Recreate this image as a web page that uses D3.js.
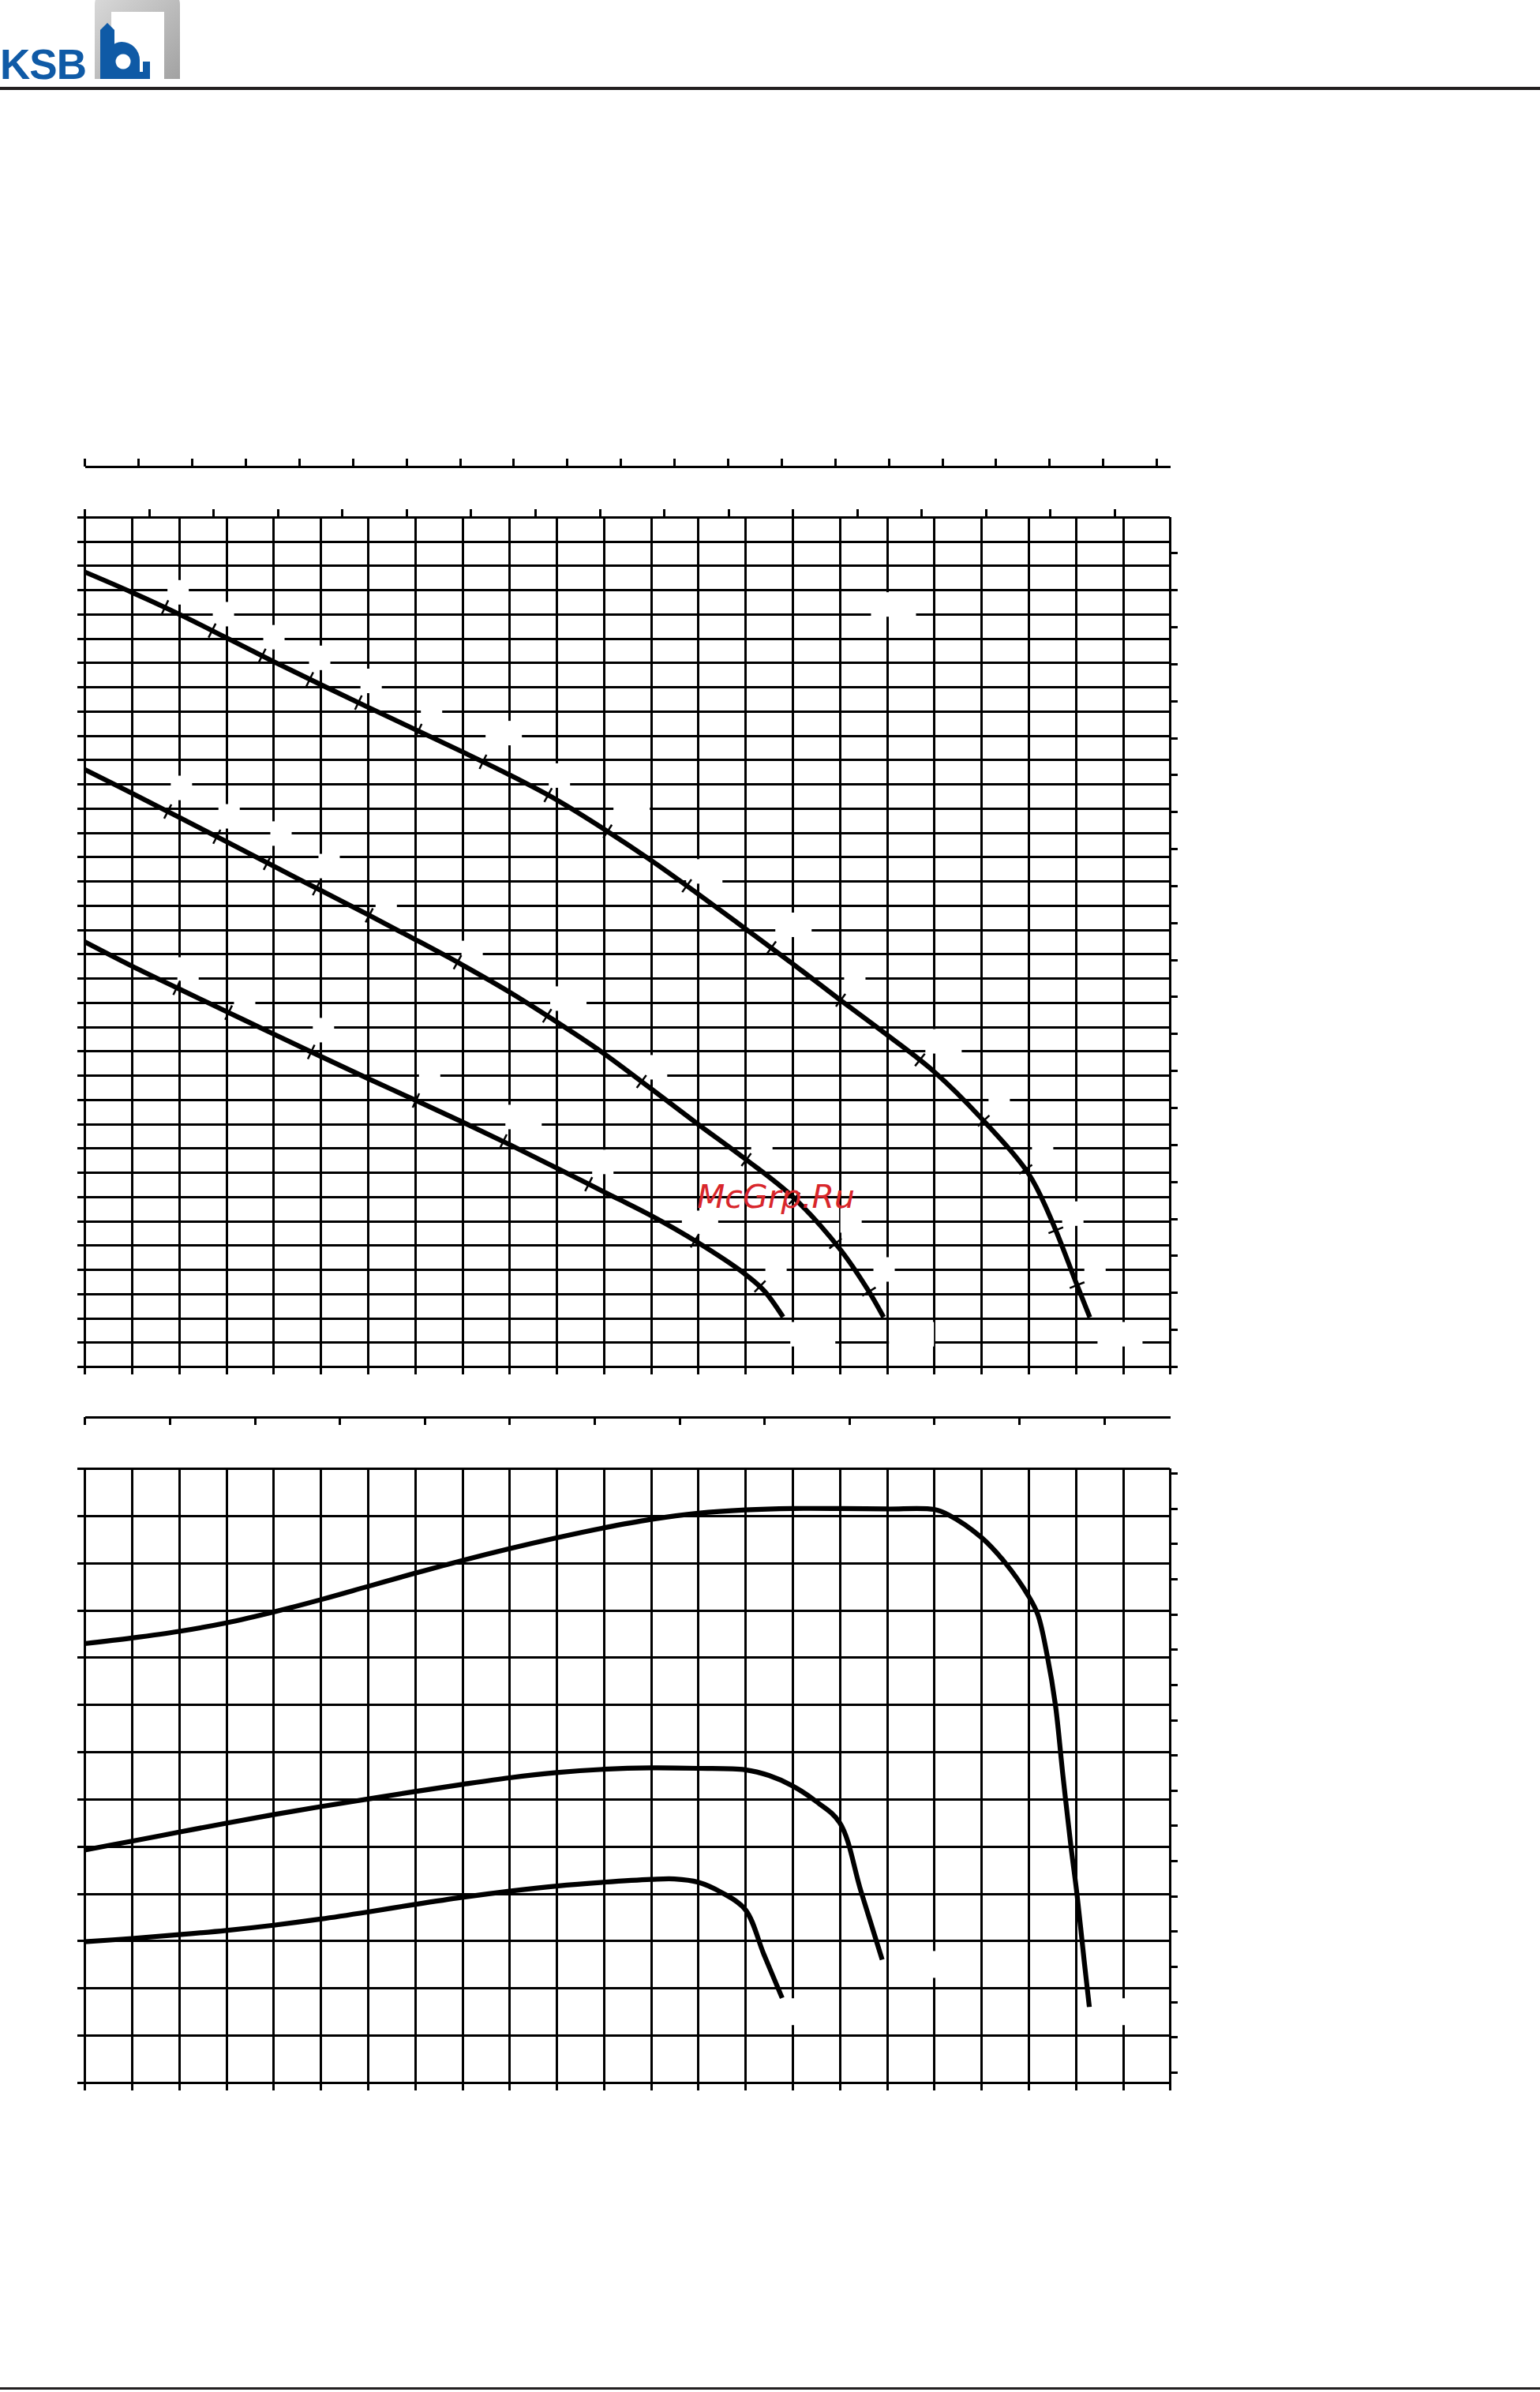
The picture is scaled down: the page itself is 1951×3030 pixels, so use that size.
<!DOCTYPE html>
<html><head><meta charset="utf-8">
<script src="https://cdn.jsdelivr.net/npm/d3@7"></script>
<style>
html,body{margin:0;padding:0;background:#fff}
.ax .tick line,.ax .domain{stroke:#000;stroke-width:3;shape-rendering:crispEdges}
.ax text{display:none}
</style>
</head><body>
<svg id="c" width="1951" height="3030" xmlns="http://www.w3.org/2000/svg"></svg>
<script>
// ================= DATA =================
// grid values (flow Q in m3/h, head H in m, power P in kW)
const flowGrid  = d3.range(0, 24);                 // 0..23 m3/h
const headGrid  = d3.range(0, 36);                 // 0..35 m
const powerGrid = d3.range(5, 19).map(v => v / 10); // 0.5..1.8 kW
// secondary tick values
const usgpmTicks = d3.range(0, 101, 5);            // US gpm
const igpmTicks  = d3.range(0, 81, 5);             // IM gpm
const lpsTicks   = d3.range(0, 13).map(v => v / 2);// l/s
const ftTicks    = d3.range(0, 111, 5);            // ft
const hpTicks    = d3.range(7, 25).map(v => v / 10); // hp

// H-Q curves (three impeller diameters)
const flowLarge = [0,1,2,3,4,5,6,7,8,9,10,11,12,13,14,15,16,17,18,19,20,20.5,21,21.3];
const headLarge = [32.74,31.9,31.0,30.03,29.05,28.1,27.17,26.25,25.33,24.38,23.35,22.15,20.86,19.47,18.04,16.6,15.12,13.67,12.15,10.23,7.95,5.98,3.5,2.03];
const flowMid   = [0,1,2,3,4,5,6,7,8,9,10,11,12,13,14,15,16,16.6,16.93];
const headMid   = [24.6,23.62,22.63,21.63,20.62,19.62,18.62,17.6,16.55,15.43,14.2,12.9,11.45,9.98,8.55,7.0,4.85,3.15,2.03];
const flowSmall = [0,1,2,3,4,5,6,7,8,9,10,11,12,13,14,14.4,14.8];
const headSmall = [17.5,16.5,15.56,14.63,13.7,12.78,11.87,10.98,10.08,9.15,8.18,7.2,6.22,5.1,3.8,3.12,2.04];

// marks on H-Q curves (flow positions)
const marksLarge = [1.7,2.7,3.76,4.77,5.8,7.07,8.44,9.82,11.08,12.76,14.55,16.02,17.7,19.05,19.94,20.58,21.03];
const marksMid   = [1.76,2.8,3.87,4.91,6.03,7.9,9.8,11.8,14.02,15.04,15.91,16.62];
const marksSmall = [1.95,3.05,4.8,7.02,8.87,10.68,12.93,14.31];

// P-Q curves
const pFlowLarge = [0,1,2,3,4,5,6,7,8,9,10,11,12,13,14,15,16,17,18,18.3,19,19.5,20,20.2,20.4,20.57,20.73,20.9,21.03,21.18,21.29];
const powerLarge = [1.429,1.441,1.455,1.473,1.496,1.522,1.55,1.578,1.605,1.63,1.653,1.674,1.692,1.705,1.712,1.715,1.715,1.714,1.713,1.702,1.654,1.601,1.53,1.49,1.402,1.3,1.15,1.0,0.897,0.758,0.66];
const pFlowMid   = [0,1,2,3,4,5,6,7,8,9,10,11,12,13,14,14.5,15,15.5,16,16.45,16.9];
const powerMid   = [0.992,1.011,1.03,1.049,1.067,1.084,1.1,1.116,1.131,1.145,1.156,1.163,1.166,1.165,1.162,1.15,1.128,1.095,1.05,0.905,0.76];
const pFlowSmall = [0,1,2,3,4,5,6,7,8,9,10,11,12,12.5,13,13.5,14,14.39,14.78];
const powerSmall = [0.798,0.805,0.813,0.822,0.833,0.846,0.861,0.877,0.892,0.905,0.916,0.924,0.93,0.931,0.924,0.902,0.866,0.772,0.679];

// erased label placeholders: [Q, H, characters]
const headLabels = [
 [1.98,31.9,1],[2.94,31.0,1],[4.01,30.05,1],[4.98,29.2,1],[6.07,28.25,1],[7.35,27.0,1],[8.88,26.1,2],
 [10.06,24.35,1],[11.59,23.0,2],[13.13,20.4,2],[15.02,18.2,2],[16.32,16.05,1],[18.2,13.4,2],
 [19.38,11.0,1],[20.3,9.0,1],[20.94,6.3,1],[21.41,4.1,1],[21.94,1.33,3],[17.14,31.4,3],
 [2.05,23.84,1],[3.06,22.67,1],[4.16,21.96,1],[5.18,20.62,1],[6.39,18.96,1],[8.21,17.04,1],
 [10.25,15.16,2],[11.96,12.33,2],[14.35,9.0,1],[16.24,6.02,1],[16.94,4.0,1],[17.52,1.33,3],
 [2.19,16.36,1],[3.39,15.06,1],[5.06,13.86,1],[7.31,12.0,1],[9.3,10.28,2],[10.98,8.43,1],
 [13.04,5.92,2],[14.65,4.16,1],[15.43,1.33,3]
];
const powerLabels = [[15.33,0.65,3],[17.94,0.75,2],[21.92,0.65,3]];

// ================= DRAWING =================
const svg = d3.select('#c');
svg.append('rect').attr('width',1951).attr('height',3030).attr('fill','#fff');

const X0 = 107.3, X1 = 1482.3, XL = 98;
const x   = d3.scaleLinear().domain([0, 23]).range([X0, X1]);
const xUS = d3.scaleLinear().domain([0, 23 / 0.2271247]).range([X0, X1]);
const xIG = d3.scaleLinear().domain([0, 23 / 0.2727654]).range([X0, X1]);
const xLS = d3.scaleLinear().domain([0, 23 / 3.6]).range([X0, X1]);
const yH  = d3.scaleLinear().domain([0, 35]).range([1731, 655]);
const yFt = d3.scaleLinear().domain([0, 35 / 0.3048]).range([1731, 655]);
const yP  = d3.scaleLinear().domain([0.5, 1.8]).range([2638, 1860]);
const yHp = d3.scaleLinear().domain([0.5 / 0.7457, 1.8 / 0.7457]).range([2638, 1860]);

// ---- header ----
const hdr = svg.append('g');
const grad = svg.append('defs').append('linearGradient').attr('id','gr').attr('x1',0).attr('y1',0).attr('x2',1).attr('y2',1);
grad.append('stop').attr('offset','0%').attr('stop-color','#dadada');
grad.append('stop').attr('offset','100%').attr('stop-color','#a2a2a2');
hdr.append('path').attr('fill','url(#gr)')
  .attr('d','M120,100 L120,6 Q120,-8 134,-8 L214,-8 Q228,-8 228,6 L228,100 L208,100 L208,15 L141,15 L141,100 Z');
const blue = '#0f5aa6';
hdr.append('path').attr('fill',blue).attr('d','M127,100 L127,38 L136,29 L145,38 L145,100 Z');
hdr.append('path').attr('fill',blue).attr('fill-rule','evenodd')
  .attr('d','M140,60 Q146,53 154,53 A23,23 0 0 1 177,76 L177,100 L140,100 Z M156,68.5 a9.5,9.5 0 1 0 0.01,0 Z');
hdr.append('rect').attr('x',181).attr('y',78).attr('width',9).attr('height',22).attr('fill',blue);
hdr.append('rect').attr('x',160).attr('y',91).attr('width',30).attr('height',9).attr('fill',blue);
hdr.append('text').attr('x',0).attr('y',100).attr('font-family','"Liberation Sans",Arial,sans-serif')
  .attr('font-weight','bold').attr('font-size',53).attr('letter-spacing',-1).attr('fill',blue).text('KSB');
hdr.append('rect').attr('x',0).attr('y',110).attr('width',1951).attr('height',4).attr('fill','#231f20');
svg.append('rect').attr('x',0).attr('y',3024).attr('width',1951).attr('height',3).attr('fill','#231f20');

function noText(g){ g.selectAll('text').remove(); }

// ---- top chart (H) ----
const topG = svg.append('g');
topG.append('g').attr('class','ax').attr('transform',`translate(${XL},0)`)
  .call(d3.axisLeft(yH).tickValues(headGrid).tickSize(-(X1 - XL)).tickFormat(''))
  .call(g => { g.select('.domain').remove(); noText(g); });
topG.append('g').attr('class','ax').attr('transform','translate(0,1741)')
  .call(d3.axisBottom(x).tickValues(flowGrid).tickSize(-(1741 - 655)).tickFormat(''))
  .call(g => { g.select('.domain').remove(); noText(g); });
topG.append('g').attr('class','ax').attr('transform','translate(0,655)')
  .call(d3.axisTop(xIG).tickValues(igpmTicks).tickSize(10).tickFormat(''))
  .call(g => { g.select('.domain').remove(); noText(g); });
topG.append('g').attr('class','ax').attr('transform','translate(0,591)')
  .call(d3.axisTop(xUS).tickValues(usgpmTicks).tickSize(10).tickSizeOuter(0).tickFormat(''))
  .call(noText);
topG.append('g').attr('class','ax').attr('transform',`translate(${X1},0)`)
  .call(d3.axisRight(yFt).tickValues(ftTicks).tickSize(10).tickFormat(''))
  .call(g => { g.select('.domain').remove(); noText(g); });

// l/s axis between the charts
svg.append('g').attr('class','ax').attr('transform','translate(0,1795)')
  .call(d3.axisBottom(xLS).tickValues(lpsTicks).tickSize(10).tickSizeOuter(0).tickFormat(''))
  .call(noText);

// ---- bottom chart (P) ----
const botG = svg.append('g');
botG.append('g').attr('class','ax').attr('transform',`translate(${XL},0)`)
  .call(d3.axisLeft(yP).tickValues(powerGrid).tickSize(-(X1 - XL)).tickFormat(''))
  .call(g => { g.select('.domain').remove(); noText(g); });
botG.append('g').attr('class','ax').attr('transform','translate(0,2648)')
  .call(d3.axisBottom(x).tickValues(flowGrid).tickSize(-(2648 - 1860)).tickFormat(''))
  .call(g => { g.select('.domain').remove(); noText(g); });
botG.append('g').attr('class','ax').attr('transform',`translate(${X1},0)`)
  .call(d3.axisRight(yHp).tickValues(hpTicks).tickSize(10).tickFormat(''))
  .call(g => { g.select('.domain').remove(); noText(g); });

// ---- erased label placeholders ----
const boxW = {1: 27, 2: 46, 3: 57};
svg.append('g').selectAll('rect').data(headLabels).join('rect')
  .attr('x', d => x(d[0]) - boxW[d[2]] / 2).attr('y', d => yH(d[1]) - 15.5)
  .attr('width', d => boxW[d[2]]).attr('height', 31).attr('fill', '#fff');
svg.append('g').selectAll('rect').data(powerLabels).join('rect')
  .attr('x', d => x(d[0]) - boxW[d[2]] / 2).attr('y', d => yP(d[1]) - 17)
  .attr('width', d => boxW[d[2]]).attr('height', 34).attr('fill', '#fff');

// ---- curves ----
const curveG = svg.append('g');
function drawCurve(qs, vs, ys, w){
  const pts = qs.map((q, i) => [x(q), ys(vs[i])]);
  return curveG.append('path').attr('d', d3.line().curve(d3.curveCatmullRom.alpha(0.5))(pts))
    .attr('fill','none').attr('stroke','#000').attr('stroke-width',w)
    .attr('stroke-linejoin','round').node();
}
function lengthAtX(node, px){
  let lo = 0, hi = node.getTotalLength();
  for (let i = 0; i < 40; i++){
    const m = (lo + hi) / 2;
    if (node.getPointAtLength(m).x < px) lo = m; else hi = m;
  }
  return (lo + hi) / 2;
}
function drawMarks(node, qs){
  const L = node.getTotalLength();
  qs.forEach(q => {
    const s = lengthAtX(node, x(q));
    const p = node.getPointAtLength(s);
    const a = node.getPointAtLength(Math.max(0, s - 4));
    const b = node.getPointAtLength(Math.min(L, s + 4));
    let dx = b.x - a.x, dy = b.y - a.y; const n = Math.hypot(dx, dy) || 1;
    dx /= n; dy /= n;
    const nx = -dy, ny = dx, h = 10;
    curveG.append('line')
      .attr('x1', p.x - nx * h).attr('y1', p.y - ny * h)
      .attr('x2', p.x + nx * h).attr('y2', p.y + ny * h)
      .attr('stroke','#000').attr('stroke-width',2.5);
  });
}
const cL = drawCurve(flowLarge, headLarge, yH, 6.2);
const cM = drawCurve(flowMid, headMid, yH, 6.2);
const cS = drawCurve(flowSmall, headSmall, yH, 6.2);
drawMarks(cL, marksLarge);
drawMarks(cM, marksMid);
drawMarks(cS, marksSmall);
drawCurve(pFlowLarge, powerLarge, yP, 6.2);
drawCurve(pFlowMid, powerMid, yP, 6.2);
drawCurve(pFlowSmall, powerSmall, yP, 6.2);

// ---- watermark ----
svg.append('text').attr('x', 883).attr('y', 1530)
  .attr('font-family','"DejaVu Sans",sans-serif').attr('font-style','oblique')
  .attr('font-size', 41).attr('fill','#d8262b').text('McGrp.Ru');
</script>
</body></html>
